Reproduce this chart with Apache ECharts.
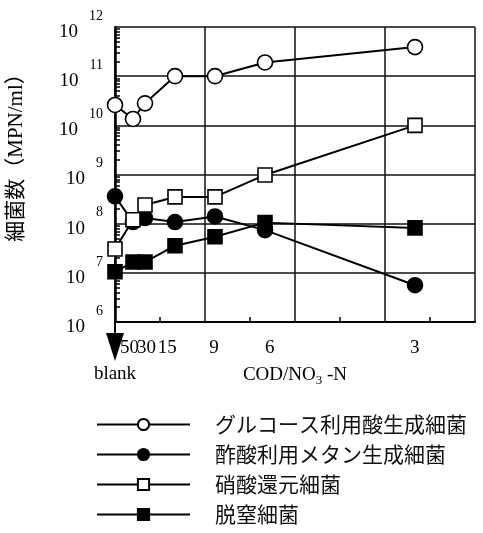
<!DOCTYPE html>
<html>
<head>
<meta charset="utf-8">
<script src="https://cdn.jsdelivr.net/npm/echarts@6/dist/echarts.min.js"></script>
<style>
  html, body { margin: 0; padding: 0; background: #fff; }
  #chart { width: 483px; height: 533px; }
</style>
</head>
<body>
<div id="chart"></div>
<script type="text/javascript">
  // COD/NO3-N ratio of each run, 'blank' = no nitrate
  var codRatio = ['blank', 50, 30, 15, 9, 6, 3];
  // bacteria counts (MPN/ml)
  var glucoseFerm = [2.6e10, 1.35e10, 2.8e10, 1.0e11, 1.0e11, 1.9e11, 3.9e11];
  var acetateMethan = [3.6e8, 1.08e8, 1.3e8, 1.08e8, 1.4e8, 7.4e7, 5.6e6];
  var nitrateRed = [3.05e7, 1.2e8, 2.4e8, 3.5e8, 3.5e8, 9.8e8, 1.0e10];
  var denitrifier = [1.05e7, 1.66e7, 1.66e7, 3.56e7, 5.4e7, 1.05e8, 8.2e7];

  var seriesNames = ['グルコース利用酸生成細菌', '酢酸利用メタン生成細菌', '硝酸還元細菌', '脱窒細菌'];
  // x tick labels and where they sit on the NO3-N/COD axis
  var tickLabels = ['50', '30', '15', '9', '6', '3'];
  var tickLabelPos = [0.016, 0.035, 0.058, 0.110, 0.172, 0.333];
  var yExp = [6, 7, 8, 9, 10, 11, 12];

  // axis runs in NO3-N/COD, i.e. 1 / (COD/NO3-N)
  var xVals = codRatio.map(function (r) { return r === 'blank' ? 0 : 1 / r; });

  function pairs(vals) {
    return vals.map(function (v, i) { return [xVals[i], v]; });
  }

  // log minor ticks 2..9 per decade
  var yTicks = [];
  for (var e = 6; e < 12; e++) {
    for (var m = 2; m < 10; m++) yTicks.push(m * Math.pow(10, e));
  }

  var serif = '"Liberation Serif", "DejaVu Serif", serif';
  var myChart = echarts.init(document.getElementById('chart'), null, { renderer: 'canvas' });

  function mkSeries(name, vals, symbol, filled) {
    return {
      name: name,
      type: 'line',
      data: pairs(vals),
      symbol: symbol,
      symbolSize: symbol === 'rect' ? 14 : 15,
      showAllSymbol: true,
      lineStyle: { color: '#000', width: 2 },
      itemStyle: { color: filled ? '#000' : '#fff', borderColor: '#000', borderWidth: 1.6 },
      emphasis: { disabled: true },
      z: 3
    };
  }

  var option = {
    animation: false,
    grid: { left: 115, right: 8, top: 27, bottom: 211, outerBoundsMode: 'none' },
    legend: {
      orient: 'vertical',
      left: 91,
      top: 409,
      height: 160,
      itemWidth: 93,
      itemHeight: 14,
      itemGap: 9,
      data: seriesNames,
      textStyle: {
        fontFamily: '"Noto Sans CJK JP"',
        fontSize: 21,
        color: '#111',
        padding: [0, 0, 0, 20]
      }
    },
    xAxis: {
      type: 'value',
      min: 0,
      max: 0.4,
      interval: 0.1,
      name: 'COD/NO{sub|3} -N',
      nameLocation: 'middle',
      nameGap: 42,
      nameMoveOverlap: false,
      nameTextStyle: {
        fontFamily: serif,
        fontSize: 19,
        color: '#000',
        rich: {
          sub: { fontFamily: serif, fontSize: 13, padding: [10, 0, 0, 0] }
        }
      },
      axisLine: { lineStyle: { color: '#000', width: 2 } },
      axisTick: { show: false },
      minorTick: { show: true, splitNumber: 2, length: -5, lineStyle: { color: '#000', width: 1.5 } },
      splitLine: { show: true, lineStyle: { color: '#111', width: 1.5 } },
      axisLabel: {
        customValues: [0].concat(tickLabelPos),
        margin: 17,
        fontFamily: serif,
        fontSize: 19,
        color: '#000',
        formatter: function (v) {
          if (v === 0) return '{blank|blank}';
          var i = tickLabelPos.indexOf(v);
          return i >= 0 ? tickLabels[i] : '';
        },
        rich: {
          blank: { fontFamily: serif, fontSize: 19, padding: [26, 0, 0, 0] }
        }
      }
    },
    yAxis: [
      {
        type: 'log',
        logBase: 10,
        min: 1e6,
        max: 1e12,
        name: '細菌数（MPN/ml）',
        nameLocation: 'middle',
        nameRotate: 90,
        nameGap: 88,
        nameMoveOverlap: false,
        nameTextStyle: { fontFamily: serif + ', "Noto Sans CJK JP"', fontSize: 21, color: '#000', padding: [0, 0, 0, 44] },
        axisLine: { show: true, lineStyle: { color: '#000', width: 2.5 } },
        axisTick: { show: false },
        splitLine: { show: true, lineStyle: { color: '#111', width: 1.5 } },
        axisLabel: {
          margin: 12,
          color: '#000',
          formatter: function (v) {
            var p = Math.round(Math.log10(v));
            return yExp.indexOf(p) >= 0 ? '{b|10}{e|' + p + '}' : '';
          },
          rich: {
            b: { fontFamily: serif, fontSize: 19, lineHeight: 18, padding: [14, 0, 4, 0] },
            e: { fontFamily: serif, fontSize: 14, lineHeight: 14, padding: [0, 0, 22, 11] }
          }
        }
      },
      {
        // only carries the small log ticks inside the left axis
        type: 'log',
        logBase: 10,
        min: 1e6,
        max: 1e12,
        position: 'left',
        axisLine: { show: false },
        axisLabel: { show: false },
        splitLine: { show: false },
        axisTick: { show: true, inside: true, length: 5, customValues: yTicks, lineStyle: { color: '#000', width: 1.5 } }
      }
    ],
    series: [
      mkSeries(seriesNames[0], glucoseFerm, 'circle', false),
      mkSeries(seriesNames[1], acetateMethan, 'circle', true),
      mkSeries(seriesNames[2], nitrateRed, 'rect', false),
      mkSeries(seriesNames[3], denitrifier, 'rect', true)
    ]
  };
  myChart.setOption(option);

  // "blank" arrow below the axis at x = 0
  var p0 = myChart.convertToPixel({ gridIndex: 0 }, [0, 1e6]);
  myChart.setOption({
    graphic: [
      { type: 'line', shape: { x1: p0[0], y1: p0[1], x2: p0[0], y2: p0[1] + 12 }, style: { stroke: '#000', lineWidth: 2 } },
      { type: 'polygon', shape: { points: [[p0[0] - 9, p0[1] + 11], [p0[0] + 9, p0[1] + 11], [p0[0], p0[1] + 39]] }, style: { fill: '#000' } }
    ]
  });
</script>
</body>
</html>
